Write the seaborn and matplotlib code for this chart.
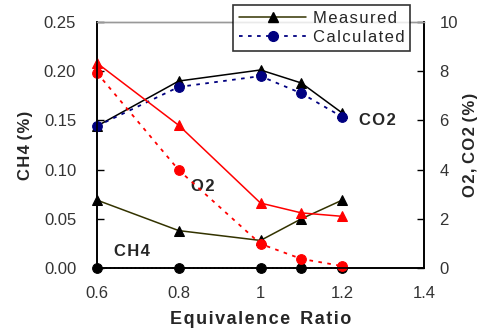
import numpy as np
import pandas as pd
import matplotlib
matplotlib.use('Agg')
import matplotlib.pyplot as plt
import seaborn as sns
from matplotlib.lines import Line2D

sns.set_style('ticks')
plt.rcParams['font.family'] = ['Liberation Sans', 'DejaVu Sans']

# data
phi = [0.6, 0.8, 1.0, 1.1, 1.2]
ch4_meas = [0.069, 0.038, 0.028, 0.050, 0.069]
ch4_calc = [0.0, 0.0, 0.0, 0.0, 0.0]
co2_meas = [5.77, 7.6, 8.05, 7.52, 6.3]
co2_calc = [5.77, 7.36, 7.8, 7.1, 6.14]
o2_meas = [8.33, 5.8, 2.64, 2.24, 2.1]
o2_calc = [7.93, 3.98, 0.98, 0.37, 0.08]

df = pd.DataFrame({'phi': phi, 'ch4_meas': ch4_meas, 'ch4_calc': ch4_calc,
                   'co2_meas': co2_meas, 'co2_calc': co2_calc,
                   'o2_meas': o2_meas, 'o2_calc': o2_calc})


def spaced(s):
    # the original uses wide letter spacing
    return '\u200a'.join(s)


TRI = 7.5
CIR = 7

fig = plt.figure(figsize=(4.82, 3.34), dpi=100)
ax = fig.add_axes([97/482, 1-268/334, (424-97)/482, (268-22)/334])
ax2 = ax.twinx()

# left axis: CH4
sns.lineplot(data=df, x='phi', y='ch4_meas', ax=ax, color='#333300', lw=1.1,
             marker='^', markersize=TRI, markerfacecolor='black', markeredgecolor='black', clip_on=False, zorder=5)
sns.lineplot(data=df, x='phi', y='ch4_calc', ax=ax, color='black', lw=1.2, ls=(0, (1, 1.5)),
             marker='o', markersize=CIR, markerfacecolor='black', markeredgecolor='black', clip_on=False, zorder=5)

# right axis: CO2, O2
sns.lineplot(data=df, x='phi', y='co2_meas', ax=ax2, color='black', lw=1.1,
             marker='^', markersize=TRI, markerfacecolor='black', markeredgecolor='black', clip_on=False)
sns.lineplot(data=df, x='phi', y='co2_calc', ax=ax2, color='navy', lw=1.3, ls=(0, (2, 3)),
             marker='o', markersize=CIR, markerfacecolor='navy', markeredgecolor='navy', clip_on=False)
sns.lineplot(data=df, x='phi', y='o2_meas', ax=ax2, color='red', lw=1.1,
             marker='^', markersize=TRI, markerfacecolor='red', markeredgecolor='red', clip_on=False)
sns.lineplot(data=df, x='phi', y='o2_calc', ax=ax2, color='red', lw=1.3, ls=(0, (2, 3)),
             marker='o', markersize=CIR, markerfacecolor='red', markeredgecolor='red', clip_on=False)

ax.set_xlim(0.6, 1.4)
ax.set_ylim(0, 0.25)
ax2.set_ylim(0, 10)
ax.set_xticks([0.6, 0.8, 1.0, 1.2, 1.4])
ax.set_xticklabels(['0.6', '0.8', '1', '1.2', '1.4'])
ax.set_yticks(np.arange(0, 0.26, 0.05))
ax.set_yticklabels(['%.2f' % v for v in np.arange(0, 0.26, 0.05)])
ax2.set_yticks([0, 2, 4, 6, 8, 10])

for a in (ax, ax2):
    a.tick_params(direction='in', length=5, width=1, labelsize=12, colors='black', labelcolor='#333333')
    for s in a.spines.values():
        s.set_linewidth(1.2)
        s.set_color('black')
    a.spines['top'].set_visible(True)
    a.spines['top'].set_color('#999999')
    a.spines['top'].set_linewidth(1)
ax2.spines['right'].set_visible(True)
ax.tick_params(axis='x', pad=13, length=0)
ax.tick_params(axis='y', pad=15)
ax2.tick_params(axis='y', pad=11)

ax.set_xlabel(spaced('Equivalence') + '  ' + spaced('Ratio'), fontsize=13, fontweight='bold', labelpad=7)
ax.set_ylabel(spaced('CH4') + ' ' + spaced('(%)'), fontsize=12, fontweight='bold', labelpad=8)
ax2.set_ylabel(spaced('O2,') + ' ' + spaced('CO2') + ' ' + spaced('(%)'), fontsize=12, fontweight='bold', labelpad=4)

ax2.text(1.285, 6.0, spaced('CO2'), fontsize=12, fontweight='bold', ha='center', va='center')
ax.text(0.859, 0.083, spaced('O2'), fontsize=12, fontweight='bold', ha='center', va='center')
ax.text(0.685, 0.017, spaced('CH4'), fontsize=12, fontweight='bold', ha='center', va='center')

handles = [Line2D([], [], color='#333300', lw=1.1, marker='^', markersize=TRI,
                  markerfacecolor='black', markeredgecolor='black'),
           Line2D([], [], color='navy', lw=1.3, ls=(0, (2, 3)), marker='o', markersize=CIR,
                  markerfacecolor='navy', markeredgecolor='navy')]
leg = fig.legend(handles, [spaced('Measured'), spaced('Calculated')], loc='upper right',
                 bbox_to_anchor=(410/482, 1-5/334), frameon=True, fancybox=False,
                 edgecolor='black', fontsize=12, handlelength=4.0, borderpad=0.35,
                 labelspacing=0.25, handletextpad=0.4, borderaxespad=0)
leg.get_frame().set_linewidth(1.2)

fig.savefig('out.png', dpi=100)
